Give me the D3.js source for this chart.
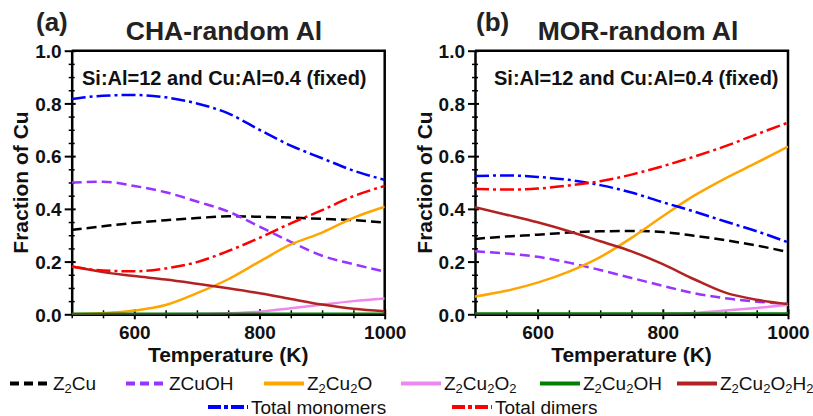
<!DOCTYPE html>
<html>
<head>
<meta charset="utf-8">
<script src="https://cdn.jsdelivr.net/npm/d3@7"></script>
<style>
body { margin: 0; background: #fff; }
svg { display: block; font-family: "Liberation Sans", Arial, sans-serif; }
</style>
</head>
<body>
<svg id="chart" width="813" height="416"></svg>
<script>
// temperatures (K) shared by both panels
const temps = [500, 550, 600, 650, 700, 750, 800, 850, 900, 950, 1000]

// (a) CHA-random Al
const chaZ2Cu      = [0.320, 0.334, 0.347, 0.357, 0.365, 0.372, 0.370, 0.367, 0.362, 0.357, 0.348]
const chaZCuOH     = [0.500, 0.503, 0.487, 0.463, 0.428, 0.390, 0.333, 0.275, 0.222, 0.190, 0.162]
const chaZ2Cu2O    = [0.000, 0.004, 0.014, 0.035, 0.080, 0.133, 0.200, 0.265, 0.310, 0.366, 0.408]
const chaZ2Cu2O2   = [0.000, 0.000, 0.000, 0.000, 0.001, 0.004, 0.010, 0.023, 0.037, 0.050, 0.060]
const chaZ2Cu2OH   = [0.002, 0.002, 0.002, 0.002, 0.002, 0.002, 0.002, 0.002, 0.002, 0.002, 0.002]
const chaZ2Cu2O2H2 = [0.181, 0.160, 0.145, 0.132, 0.116, 0.099, 0.080, 0.058, 0.037, 0.021, 0.012]
const chaMono      = [0.817, 0.829, 0.832, 0.823, 0.800, 0.762, 0.700, 0.640, 0.592, 0.545, 0.510]
const chaDimer     = [0.181, 0.166, 0.163, 0.174, 0.198, 0.240, 0.290, 0.345, 0.395, 0.448, 0.487]

// (b) MOR-random Al
const morZ2Cu      = [0.286, 0.295, 0.302, 0.310, 0.315, 0.316, 0.312, 0.298, 0.281, 0.261, 0.236]
const morZCuOH     = [0.239, 0.231, 0.218, 0.196, 0.168, 0.138, 0.108, 0.080, 0.061, 0.048, 0.039]
const morZ2Cu2O    = [0.067, 0.089, 0.120, 0.162, 0.217, 0.290, 0.372, 0.450, 0.516, 0.575, 0.636]
const morZ2Cu2O2   = [0.000, 0.000, 0.000, 0.000, 0.000, 0.000, 0.001, 0.005, 0.014, 0.024, 0.036]
const morZ2Cu2OH   = [0.003, 0.003, 0.003, 0.003, 0.003, 0.003, 0.003, 0.003, 0.003, 0.003, 0.003]
const morZ2Cu2O2H2 = [0.406, 0.378, 0.349, 0.315, 0.277, 0.239, 0.190, 0.133, 0.082, 0.055, 0.039]
const morMono      = [0.524, 0.527, 0.521, 0.510, 0.490, 0.462, 0.425, 0.390, 0.352, 0.315, 0.273]
const morDimer     = [0.476, 0.473, 0.477, 0.489, 0.505, 0.530, 0.562, 0.598, 0.638, 0.683, 0.727]

const xTicks = [600, 800, 1000]
const xMinor = [500, 550, 650, 700, 750, 850, 900, 950]
const yTicks = [0, 0.2, 0.4, 0.6, 0.8, 1.0]
const yMinor = [0.05, 0.1, 0.15, 0.25, 0.3, 0.35, 0.45, 0.5, 0.55, 0.65, 0.7, 0.75, 0.85, 0.9, 0.95]

// series keys, legend labels ({} = subscript) and styles
const seriesKeys = ["Z2Cu", "ZCuOH", "Z2Cu2O", "Z2Cu2O2", "Z2Cu2OH", "Z2Cu2O2H2", "mono", "dimer"]
const labels = {
    Z2Cu: "Z{2}Cu", ZCuOH: "ZCuOH", Z2Cu2O: "Z{2}Cu{2}O", Z2Cu2O2: "Z{2}Cu{2}O{2}",
    Z2Cu2OH: "Z{2}Cu{2}OH", Z2Cu2O2H2: "Z{2}Cu{2}O{2}H{2}",
    mono: "Total monomers", dimer: "Total dimers"
}
const styles = {
    Z2Cu:      {color: "#000000", dash: "10,5",      lg: "9,5"},
    ZCuOH:     {color: "#9933ff", dash: "10,5",      lg: "9,5"},
    Z2Cu2O:    {color: "#ffa500", dash: null},
    Z2Cu2O2:   {color: "#ee88ee", dash: null},
    Z2Cu2OH:   {color: "#008000", dash: null},
    Z2Cu2O2H2: {color: "#b22222", dash: null},
    mono:      {color: "#0000ff", dash: "14,4,3,4",  lg: "13,3,4,3"},
    dimer:     {color: "#ff0000", dash: "14,4,3,4",  lg: "13,3,4,3"}
}

const panels = [
    {tag: "(a)", title: "CHA-random Al", left: 71.7, tagX: 36, titleX: 224, noteX: 82, ylabX: 28,
     data: {Z2Cu: chaZ2Cu, ZCuOH: chaZCuOH, Z2Cu2O: chaZ2Cu2O, Z2Cu2O2: chaZ2Cu2O2,
            Z2Cu2OH: chaZ2Cu2OH, Z2Cu2O2H2: chaZ2Cu2O2H2, mono: chaMono, dimer: chaDimer}},
    {tag: "(b)", title: "MOR-random Al", left: 475, tagX: 476, titleX: 638, noteX: 494, ylabX: 432,
     data: {Z2Cu: morZ2Cu, ZCuOH: morZCuOH, Z2Cu2O: morZ2Cu2O, Z2Cu2O2: morZ2Cu2O2,
            Z2Cu2OH: morZ2Cu2OH, Z2Cu2O2H2: morZ2Cu2O2H2, mono: morMono, dimer: morDimer}}
]
const note = "Si:Al=12 and Cu:Al=0.4 (fixed)"

const plotTop = 50.7
const plotBottom = 314.3
const plotW = 313

const svg = d3.select("#chart")

function addLabel(sel, text, subSize) {
    // split "Z{2}Cu" into normal and subscript pieces
    let shifted = false
    text.split(/(\{[^}]*\})/).filter(s => s.length).forEach(part => {
        if (part[0] === "{") {
            sel.append("tspan").attr("font-size", subSize).attr("dy", 3).text(part.slice(1, -1))
            shifted = true
        } else {
            sel.append("tspan").attr("dy", shifted ? -3 : 0).text(part)
            shifted = false
        }
    })
}

panels.forEach((p, i) => {
    const x = d3.scaleLinear().domain([500, 1000]).range([p.left, p.left + plotW])
    const y = d3.scaleLinear().domain([0, 1]).range([plotBottom, plotTop])
    const g = svg.append("g")

    // titles
    g.append("text").attr("x", p.tagX).attr("y", 31)
        .attr("font-size", 26).attr("font-weight", "bold").attr("fill", "#222").text(p.tag)
    g.append("text").attr("x", p.titleX).attr("y", 40).attr("text-anchor", "middle")
        .attr("font-size", 26.5).attr("font-weight", "bold").attr("fill", "#222").text(p.title)

    // frame top/right
    g.append("path")
        .attr("d", `M${x(500)},${y(1)}H${x(1000)}V${y(0)}`)
        .attr("fill", "none").attr("stroke", "#000").attr("stroke-width", 2.5)

    // minor ticks
    const yMin = g.append("g").attr("transform", `translate(${x(500)},0)`)
        .call(d3.axisLeft(y).tickValues(yMinor).tickFormat("").tickSize(3).tickSizeOuter(0))
    yMin.select(".domain").remove()
    yMin.selectAll("line").attr("x1", 3).attr("stroke-width", 1.5)

    const xMin = g.append("g").attr("transform", `translate(0,${y(0)})`)
        .call(d3.axisBottom(x).tickValues(xMinor).tickFormat("").tickSize(4).tickSizeOuter(0))
    xMin.select(".domain").remove()
    xMin.selectAll("line").attr("y1", -4).attr("stroke-width", 1.5)

    // y axis
    const yAx = g.append("g").attr("transform", `translate(${x(500)},0)`)
        .call(d3.axisLeft(y).tickValues(yTicks).tickFormat(d3.format(".1f")).tickSize(7).tickSizeOuter(0))
    yAx.select(".domain").attr("stroke-width", 2.5)
    yAx.selectAll("line").attr("x1", 4).attr("stroke-width", 2)
    yAx.selectAll("text").attr("x", -10).attr("dy", "0.36em")
        .attr("font-size", 19).attr("font-weight", "bold").attr("fill", "#111")
        .attr("font-family", "Liberation Sans, Arial, sans-serif")

    // x axis
    const xAx = g.append("g").attr("transform", `translate(0,${y(0)})`)
        .call(d3.axisBottom(x).tickValues(xTicks).tickFormat(d3.format("d")).tickSize(5).tickSizeOuter(0))
    xAx.select(".domain").attr("stroke-width", 2.5)
    xAx.selectAll("line").attr("y1", -5).attr("stroke-width", 2)
    xAx.selectAll("text").attr("y", 11)
        .attr("font-size", 19).attr("font-weight", "bold").attr("fill", "#111")
        .attr("font-family", "Liberation Sans, Arial, sans-serif")

    // axis titles
    g.append("text").attr("x", x(750)).attr("y", 362).attr("text-anchor", "middle")
        .attr("font-size", 21).attr("font-weight", "bold").attr("fill", "#111").text("Temperature (K)")
    g.append("text")
        .attr("transform", `translate(${p.ylabX},${(plotTop + plotBottom) / 2}) rotate(-90)`)
        .attr("text-anchor", "middle")
        .attr("font-size", 21).attr("font-weight", "bold").attr("fill", "#111").text("Fraction of Cu")

    // note
    g.append("text").attr("x", p.noteX).attr("y", 85)
        .attr("font-size", 20).attr("font-weight", "bold").attr("fill", "#111").text(note)

    // curves
    svg.append("clipPath").attr("id", "clip" + i)
        .append("rect").attr("x", x(500)).attr("y", y(1)).attr("width", plotW).attr("height", plotBottom - plotTop)
    const line = d3.line()
        .x((d, j) => x(temps[j]))
        .y(d => y(d))
        .curve(d3.curveMonotoneX)
    const lines = g.append("g").attr("clip-path", `url(#clip${i})`)
    seriesKeys.forEach(k => {
        lines.append("path")
            .attr("d", line(p.data[k]))
            .attr("fill", "none")
            .attr("stroke", styles[k].color)
            .attr("stroke-width", 2.5)
            .attr("stroke-dasharray", styles[k].dash)
    })
})

// legend
const legendPos = {
    Z2Cu: [10, 383.5], ZCuOH: [126, 383.5], Z2Cu2O: [264, 383.5], Z2Cu2O2: [401, 383.5],
    Z2Cu2OH: [540, 383.5], Z2Cu2O2H2: [677, 383.5], mono: [208, 407], dimer: [452, 407]
}
const legend = svg.append("g")
seriesKeys.forEach(k => {
    const [lx, ly] = legendPos[k]
    legend.append("line")
        .attr("x1", lx).attr("x2", lx + 40).attr("y1", ly).attr("y2", ly)
        .attr("stroke", styles[k].color).attr("stroke-width", 4)
        .attr("stroke-dasharray", styles[k].lg || null)
    const t = legend.append("text").attr("x", lx + 43).attr("y", ly + 6.5)
        .attr("font-size", 19).attr("fill", "#111")
    addLabel(t, labels[k], 13)
})
</script>
</body>
</html>
